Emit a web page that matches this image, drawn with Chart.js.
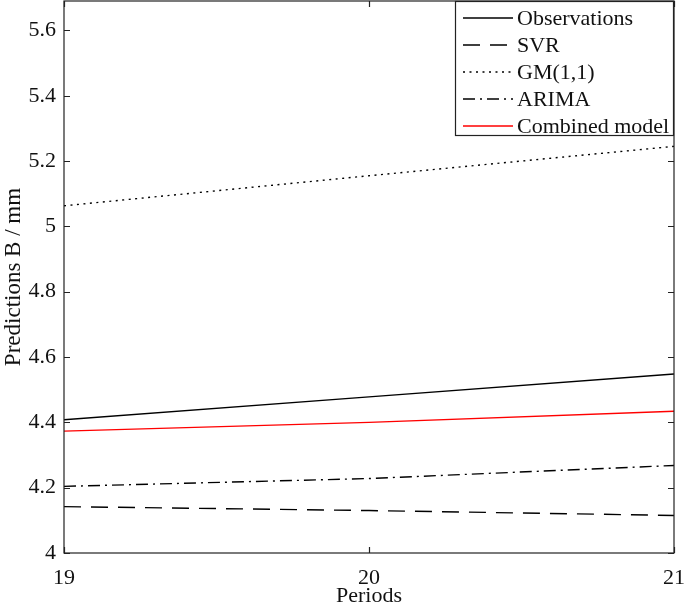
<!DOCTYPE html>
<html>
<head>
<meta charset="utf-8">
<script src="https://cdn.jsdelivr.net/npm/chart.js@4.4.0/dist/chart.umd.min.js"></script>
<style>
	html, body { margin: 0; padding: 0; background: #fff; }
	#wrap { width: 685px; height: 609px; position: relative; }
</style>
</head>
<body>
<div id="wrap"><canvas id="predChart"></canvas></div>
<script>
// data
var periods = [19, 20, 21];
var observations = [4.408, 4.478, 4.548];
var svr = [4.142, 4.130, 4.115];
var gm11 = [5.063, 5.155, 5.245];
var arima = [4.204, 4.228, 4.268];
var combined = [4.373, 4.400, 4.434];
var yTicks = [4, 4.2, 4.4, 4.6, 4.8, 5, 5.2, 5.4, 5.6];

var serif = "'Liberation Serif', 'Times New Roman', serif";

function series(label, values, color, dash) {
	return {
		label: label,
		data: values.map(function(v, i) { return {x: periods[i], y: v}; }),
		borderColor: color,
		borderWidth: 1.4,
		borderDash: dash,
		pointRadius: 0,
		fill: false,
		tension: 0
	};
}

// inward tick marks on all four sides, like the original box axes
var boxTicks = {
	id: 'boxTicks',
	afterDraw: function(chart) {
		var ctx = chart.ctx, a = chart.chartArea;
		var xs = chart.scales.x, ys = chart.scales.y;
		var len = 6;
		ctx.save();
		ctx.strokeStyle = '#222';
		ctx.lineWidth = 1.2;
		ctx.strokeRect(a.left, a.top, a.right - a.left, a.bottom - a.top);
		ctx.beginPath();
		yTicks.forEach(function(v) {
			var y = Math.round(ys.getPixelForValue(v)) + 0.5;
			ctx.moveTo(a.left, y); ctx.lineTo(a.left + len, y);
			ctx.moveTo(a.right, y); ctx.lineTo(a.right - len, y);
		});
		periods.forEach(function(p) {
			var x = Math.round(xs.getPixelForValue(p)) + 0.5;
			ctx.moveTo(x, a.bottom); ctx.lineTo(x, a.bottom - len);
			ctx.moveTo(x, a.top); ctx.lineTo(x, a.top + len);
		});
		ctx.stroke();
		ctx.restore();
	}
};

// legend box in the top right corner, built from the datasets
var boxLegend = {
	id: 'boxLegend',
	afterDraw: function(chart) {
		var ctx = chart.ctx, a = chart.chartArea;
		var left = 455, top = a.top, right = a.right, rowH = 27;
		var sets = chart.data.datasets;
		ctx.save();
		ctx.fillStyle = '#fff';
		ctx.fillRect(left, top, right - left, 134);
		ctx.strokeStyle = '#222';
		ctx.lineWidth = 1.2;
		ctx.strokeRect(left + 0.5, top + 0.5, right - left - 1, 134);
		ctx.font = '22px ' + serif;
		ctx.textBaseline = 'middle';
		sets.forEach(function(ds, i) {
			var y = top + 17 + i * rowH;
			ctx.beginPath();
			ctx.setLineDash(ds.borderDash || []);
			ctx.strokeStyle = ds.borderColor;
			ctx.lineWidth = ds.borderWidth;
			ctx.moveTo(463, y);
			ctx.lineTo(513, y);
			ctx.stroke();
			ctx.setLineDash([]);
			ctx.fillStyle = '#111';
			ctx.fillText(ds.label, 517, y + 1);
		});
		ctx.restore();
	}
};

var ctx = document.getElementById('predChart').getContext('2d');
var myChart = new Chart(ctx, {
	type: 'line',
	data: {
		datasets: [
			series('Observations', observations, '#000', []),
			series('SVR', svr, '#000', [17, 10]),
			series('GM(1,1)', gm11, '#000', [2, 4.5]),
			series('ARIMA', arima, '#000', [12, 5, 2, 5]),
			series('Combined model', combined, '#ff0000', [])
		]
	},
	options: {
		responsive: true,
		maintainAspectRatio: false,
		animation: false,
		layout: { padding: { top: 1, right: 11, left: 0, bottom: 0 } },
		plugins: {
			legend: { display: false },
			tooltip: { enabled: false }
		},
		scales: {
			x: {
				type: 'linear',
				min: 19,
				max: 21,
				afterBuildTicks: function(s) {
					s.ticks = periods.map(function(p) { return {value: p}; });
				},
				afterFit: function(s) {
					s.height = 56;
					s.paddingLeft = 0;
					s.paddingRight = 0;
				},
				grid: { display: false, drawTicks: false },
				border: { display: false },
				ticks: {
					color: '#111',
					padding: 12,
					maxRotation: 0,
					font: { family: serif, size: 22 }
				},
				title: {
					display: true,
					text: 'Periods',
					color: '#111',
					padding: { top: 0, bottom: 0 },
					font: { family: serif, size: 22 }
				}
			},
			y: {
				min: 4,
				max: 5.69,
				afterBuildTicks: function(s) {
					s.ticks = yTicks.map(function(v) { return {value: v}; });
				},
				afterFit: function(s) {
					s.width = 64;
					s.paddingTop = 0;
					s.paddingBottom = 0;
				},
				grid: { display: false, drawTicks: false },
				border: { display: false },
				ticks: {
					color: '#111',
					padding: 8,
					font: { family: serif, size: 22 },
					callback: function(v) { return String(Math.round(v * 10) / 10); }
				},
				title: {
					display: true,
					text: 'Predictions B / mm',
					color: '#111',
					padding: { top: 0, bottom: 0 },
					font: { family: serif, size: 23 }
				}
			}
		}
	},
	plugins: [boxTicks, boxLegend]
});
</script>
</body>
</html>
